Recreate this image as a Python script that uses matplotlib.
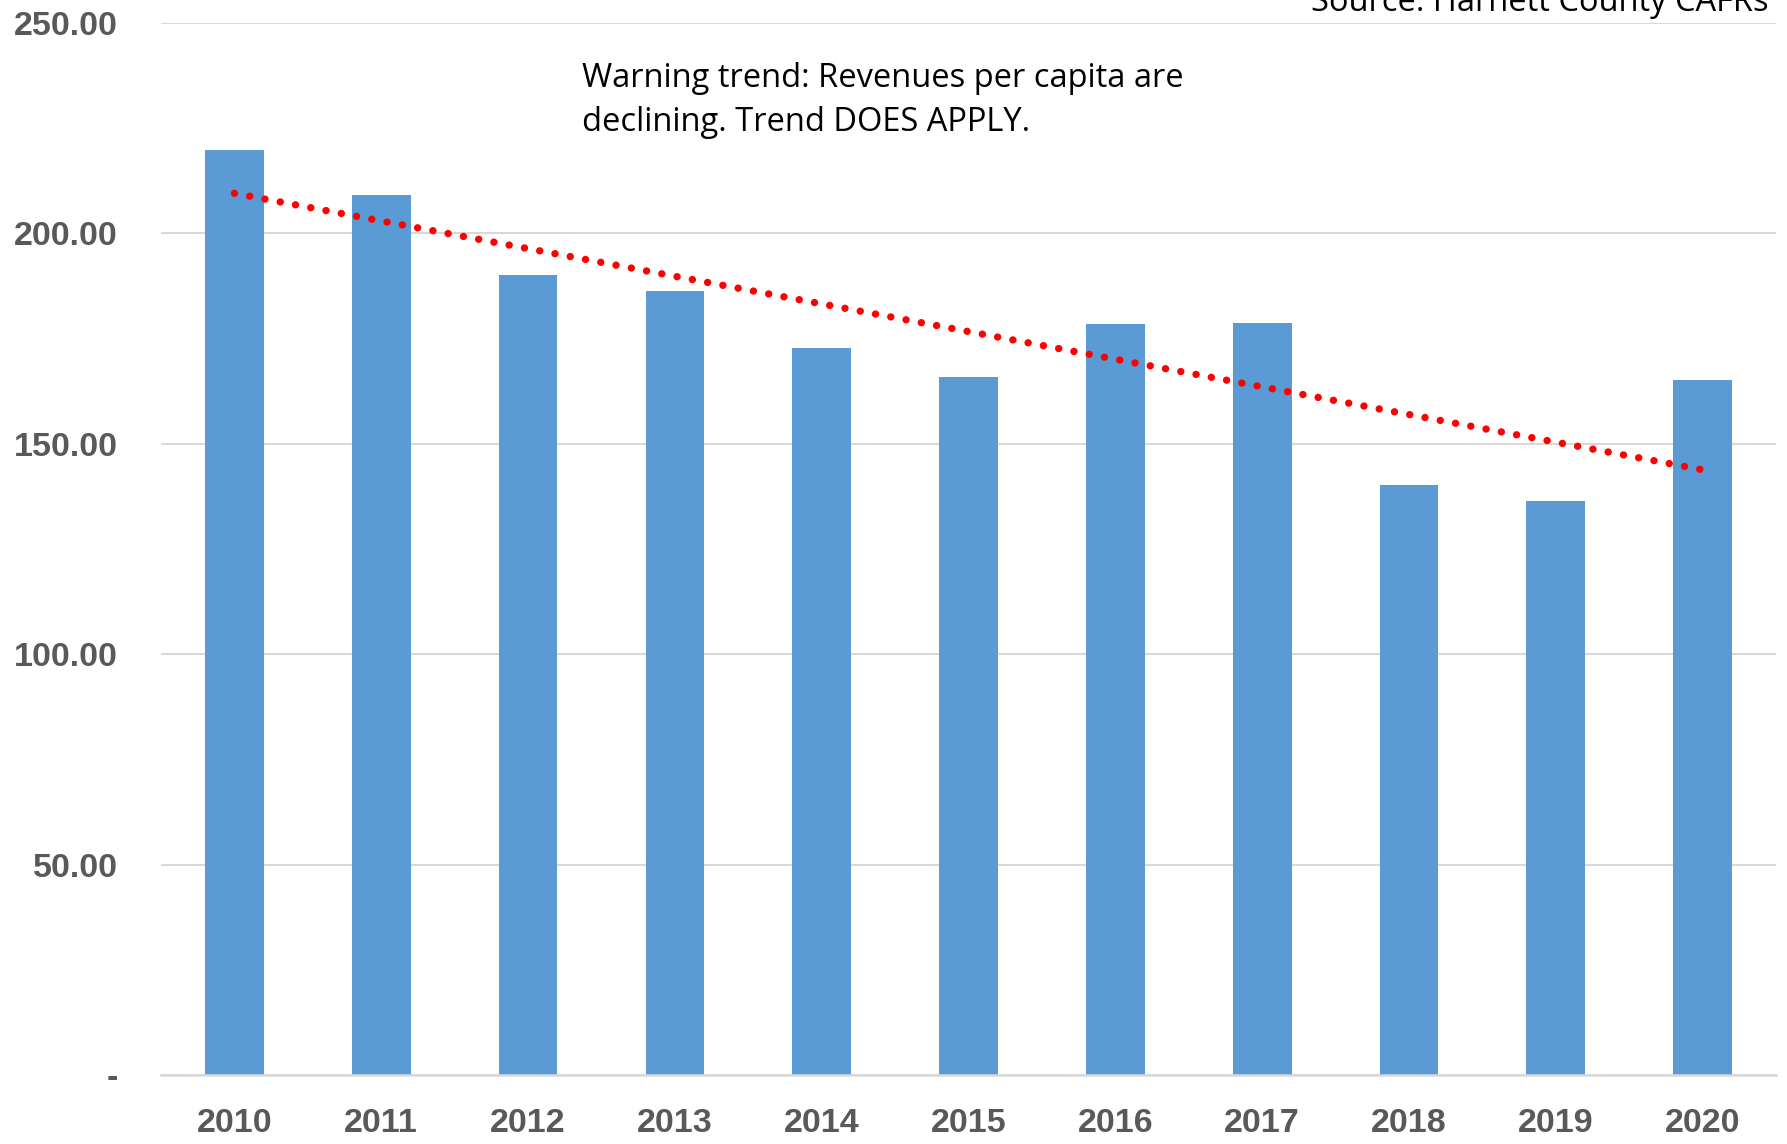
import numpy as np
import matplotlib.pyplot as plt

years = ['2010', '2011', '2012', '2013', '2014', '2015', '2016', '2017', '2018', '2019', '2020']
revenue_per_capita = [219.9, 209.1, 190.1, 186.4, 172.8, 165.8, 178.5, 178.8, 140.3, 136.5, 165.2]
ytick_values = [0, 50, 100, 150, 200, 250]
ytick_labels = ['-', '50.00', '100.00', '150.00', '200.00', '250.00']

note = 'Warning trend: Revenues per capita are\ndeclining. Trend DOES APPLY.'
source = 'Source: Harnett County CAFRs'

W, H = 1787, 1144
fig = plt.figure(figsize=(W / 100, H / 100), dpi=100)
ax = fig.add_axes([161 / W, 1 - 1075 / H, (1776 - 161) / W, (1075 - 23) / H])

x = np.arange(len(years))
ax.bar(x, revenue_per_capita, width=0.4, color='#5B9BD5', zorder=2)

# linear trendline like excel
slope, icpt = np.polyfit(x, revenue_per_capita, 1)
ax.plot(x, slope * x + icpt, color='#FF0000', lw=5.3,
        linestyle=(0, (0.01, 2.1)), dash_capstyle='round', zorder=3)

ax.set_xlim(-0.5, len(years) - 0.5)
ax.set_ylim(0, 250)
ax.set_yticks(ytick_values)
ax.set_yticklabels(ytick_labels)
ax.set_xticks(x)
ax.set_xticklabels(years)

ax.grid(axis='y', color='#D9D9D9', lw=1.5, zorder=0)
for s in ['top', 'right', 'left']:
    ax.spines[s].set_visible(False)
ax.spines['bottom'].set_color('#D9D9D9')
ax.spines['bottom'].set_linewidth(1.8)
ax.tick_params(length=0)
ax.tick_params(axis='y', pad=31)
ax.tick_params(axis='x', pad=24)

for lab in ax.get_xticklabels() + ax.get_yticklabels():
    lab.set_fontfamily(['Liberation Sans', 'DejaVu Sans'])
    lab.set_fontweight('bold')
    lab.set_fontsize(24.5)
    lab.set_color('#595959')

fig.text(582 / W, 1 - 62 / H, note, fontsize=23.5, family=['Open Sans', 'DejaVu Sans'],
         color='black', va='top', ha='left', linespacing=1.45)
fig.text(1769 / W, 1 - 11 / H, source, fontsize=23.5, family=['Open Sans', 'DejaVu Sans'],
         color='black', va='baseline', ha='right')

fig.savefig('out.png', dpi=100)
